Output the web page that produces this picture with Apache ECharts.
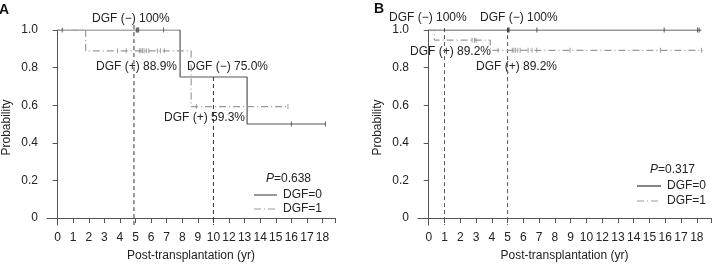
<!DOCTYPE html>
<html>
<head>
<meta charset="utf-8" />
<title>ECharts</title>
<script src="https://cdn.jsdelivr.net/npm/echarts@6/dist/echarts.min.js"></script>
<style>html,body{margin:0;padding:0;background:#fff;}</style>
</head>
<body>
<div id="main" style="width:714px;height:267px;"></div>
<script type="text/javascript">
// x positions are tick slots: slot i is labelled xTickLabels[i] (the figure skips 11)
var xTickLabels = ['0','1','2','3','4','5','6','7','8','9','10','12','13','14','15','16','17','18'];
var yTicks = [0, 0.2, 0.4, 0.6, 0.8, 1.0];

// panel A
var aDgf0 = [[0, 1], [7.86, 0.75], [12.16, 0.5], [17.19, 0.5]];
var aDgf1 = [[0, 1], [1.8, 0.889], [8.57, 0.593], [14.78, 0.593]];
var aCens0 = [[0.3, 1], [5.05, 1], [5.1, 1], [5.15, 1], [5.2, 1], [6.8, 1], [15.0, 0.5], [17.19, 0.5]];
var aCens1 = [[3.85, 0.889], [4.4, 0.889], [5.25, 0.889], [5.35, 0.889], [5.45, 0.889], [5.55, 0.889],
              [5.7, 0.889], [5.85, 0.889], [6.4, 0.889], [6.6, 0.889], [6.85, 0.889],
              [8.9, 0.593], [14.78, 0.593]];
var aGuides = [[4.9, 1.026], [10.0, 0.75]];

// panel B
var bDgf0 = [[0, 1], [17.3, 1]];
var bDgf1 = [[0, 1], [0.36, 0.946], [3.9, 0.892], [17.4, 0.892]];
var bCens0 = [[5.0, 1], [5.05, 1], [5.1, 1], [6.86, 1], [14.93, 1], [17.05, 1], [17.15, 1]];
var bCens1 = [[2.75, 0.946], [2.9, 0.946], [3.0, 0.946],
              [4.4, 0.892], [5.3, 0.892], [5.4, 0.892], [5.5, 0.892], [5.65, 0.892], [5.8, 0.892],
              [6.3, 0.892], [6.55, 0.892], [6.85, 0.892], [8.96, 0.892], [14.7, 0.892], [17.3, 0.892]];
var bGuides = [[1.0, 1.01], [5.0, 1.01]];

var FONT = 'Liberation Sans, Arial, sans-serif';
var TXT = '#222';
var AX = '#555';
var dashDot = [7, 3, 1, 3];
var xTickPos = xTickLabels.map(function (_, i) { return i; });

function xAxisFor(idx, max) {
    return {
        type: 'value', gridIndex: idx, min: -0.68, max: max,
        name: 'Post-transplantation (yr)', nameLocation: 'middle', nameGap: 25,
        nameTextStyle: { fontFamily: FONT, fontSize: 12, color: TXT },
        axisLine: { lineStyle: { color: AX, width: 1 } },
        axisTick: { length: 5, lineStyle: { color: AX }, customValues: xTickPos.concat([max]) },
        axisLabel: {
            customValues: xTickPos, margin: 7, fontFamily: FONT, fontSize: 12, color: TXT,
            formatter: function (v) { return xTickLabels[Math.round(v)]; }
        },
        splitLine: { show: false }
    };
}
function yAxisFor(idx) {
    return {
        type: 'value', gridIndex: idx, min: -0.037, max: 1.0,
        name: 'Probability', nameLocation: 'middle', nameGap: 34,
        nameTextStyle: { fontFamily: FONT, fontSize: 12, color: TXT },
        axisLine: { show: true, lineStyle: { color: AX, width: 1 } },
        axisTick: { show: true, length: 5, lineStyle: { color: AX }, customValues: yTicks },
        axisLabel: {
            customValues: yTicks, margin: 9, fontFamily: FONT, fontSize: 12, color: TXT,
            formatter: function (v) { return v === 0 ? '0' : v.toFixed(1); }
        },
        splitLine: { show: false }
    };
}
function kmLine(idx, data, color, type) {
    return {
        type: 'line', xAxisIndex: idx, yAxisIndex: idx, data: data, step: 'end',
        symbol: 'none', silent: true, z: 3,
        lineStyle: { color: color, width: 1.2, type: type }
    };
}
function censor(idx, data, color) {
    return {
        type: 'scatter', xAxisIndex: idx, yAxisIndex: idx, data: data,
        symbol: 'rect', symbolSize: [1, 5], itemStyle: { color: color }, silent: true, z: 4
    };
}
function guides(idx, list, color) {
    return list.map(function (g) {
        return {
            type: 'line', xAxisIndex: idx, yAxisIndex: idx, clip: false,
            data: [[g[0], g[1]], [g[0], -0.037]], symbol: 'none', silent: true, z: 2,
            lineStyle: { color: color, width: 1, type: [4, 3] }
        };
    });
}
function note(x, y, t) {
    return { type: 'text', x: x, y: y, style: { text: t, fontFamily: FONT, fontSize: 12, fill: TXT, textVerticalAlign: 'middle' } };
}
function pNote(x, y, v) {
    return {
        type: 'text', x: x, y: y,
        style: {
            text: '{i|P}=' + v, fontFamily: FONT, fontSize: 12, fill: TXT, textVerticalAlign: 'middle',
            rich: { i: { fontStyle: 'italic', fontFamily: FONT, fontSize: 12, fill: TXT } }
        }
    };
}
function legendRow(x1, x2, y, label, color, dash) {
    return [
        { type: 'line', shape: { x1: x1, y1: y, x2: x2, y2: y }, style: { stroke: color, lineWidth: 1.2, lineDash: dash } },
        note(x2 + 6, y, label)
    ];
}

var myChart = echarts.init(document.getElementById('main'), null, { renderer: 'canvas' });

var option = {
    animation: false,
    grid: [
        { left: 41, top: 30, width: 294, height: 197 },
        { left: 418, top: 30, width: 293, height: 197 }
    ],
    xAxis: [xAxisFor(0, 17.8), xAxisFor(1, 17.9)],
    yAxis: [yAxisFor(0), yAxisFor(1)],
    series: [
        kmLine(0, aDgf0, '#555', 'solid'),
        kmLine(0, aDgf1, '#9a9a9a', dashDot),
        censor(0, aCens0, '#444'),
        censor(0, aCens1, '#8a8a8a'),
        kmLine(1, bDgf0, '#333', 'solid'),
        kmLine(1, bDgf1, '#9a9a9a', dashDot),
        censor(1, bCens0, '#333'),
        censor(1, bCens1, '#8a8a8a')
    ].concat(guides(0, aGuides, '#333')).concat(guides(1, bGuides, '#555')),
    graphic: [
        { type: 'text', x: -1, y: 10, style: { text: 'A', fontFamily: FONT, fontSize: 14, fontWeight: 'bold', fill: '#111', textVerticalAlign: 'middle' } },
        { type: 'text', x: 374, y: 9, style: { text: 'B', fontFamily: FONT, fontSize: 14, fontWeight: 'bold', fill: '#111', textVerticalAlign: 'middle' } },
        note(92, 19, 'DGF (\u2212) 100%'),
        note(96, 67, 'DGF (+) 88.9%'),
        note(187, 67, 'DGF (\u2212) 75.0%'),
        note(164, 118, 'DGF (+) 59.3%'),
        pNote(266, 179, '0.638'),
        note(389, 18, 'DGF (\u2212) 100%'),
        note(480, 18, 'DGF (\u2212) 100%'),
        note(410, 52, 'DGF (+) 89.2%'),
        note(476, 67, 'DGF (+) 89.2%'),
        pNote(650, 170, '0.317')
    ].concat(legendRow(254, 277, 195, 'DGF=0', '#555', null))
     .concat(legendRow(254, 277, 209, 'DGF=1', '#9a9a9a', dashDot))
     .concat(legendRow(637, 661, 186, 'DGF=0', '#333', null))
     .concat(legendRow(637, 661, 201, 'DGF=1', '#9a9a9a', dashDot))
};

myChart.setOption(option);
</script>
</body>
</html>
